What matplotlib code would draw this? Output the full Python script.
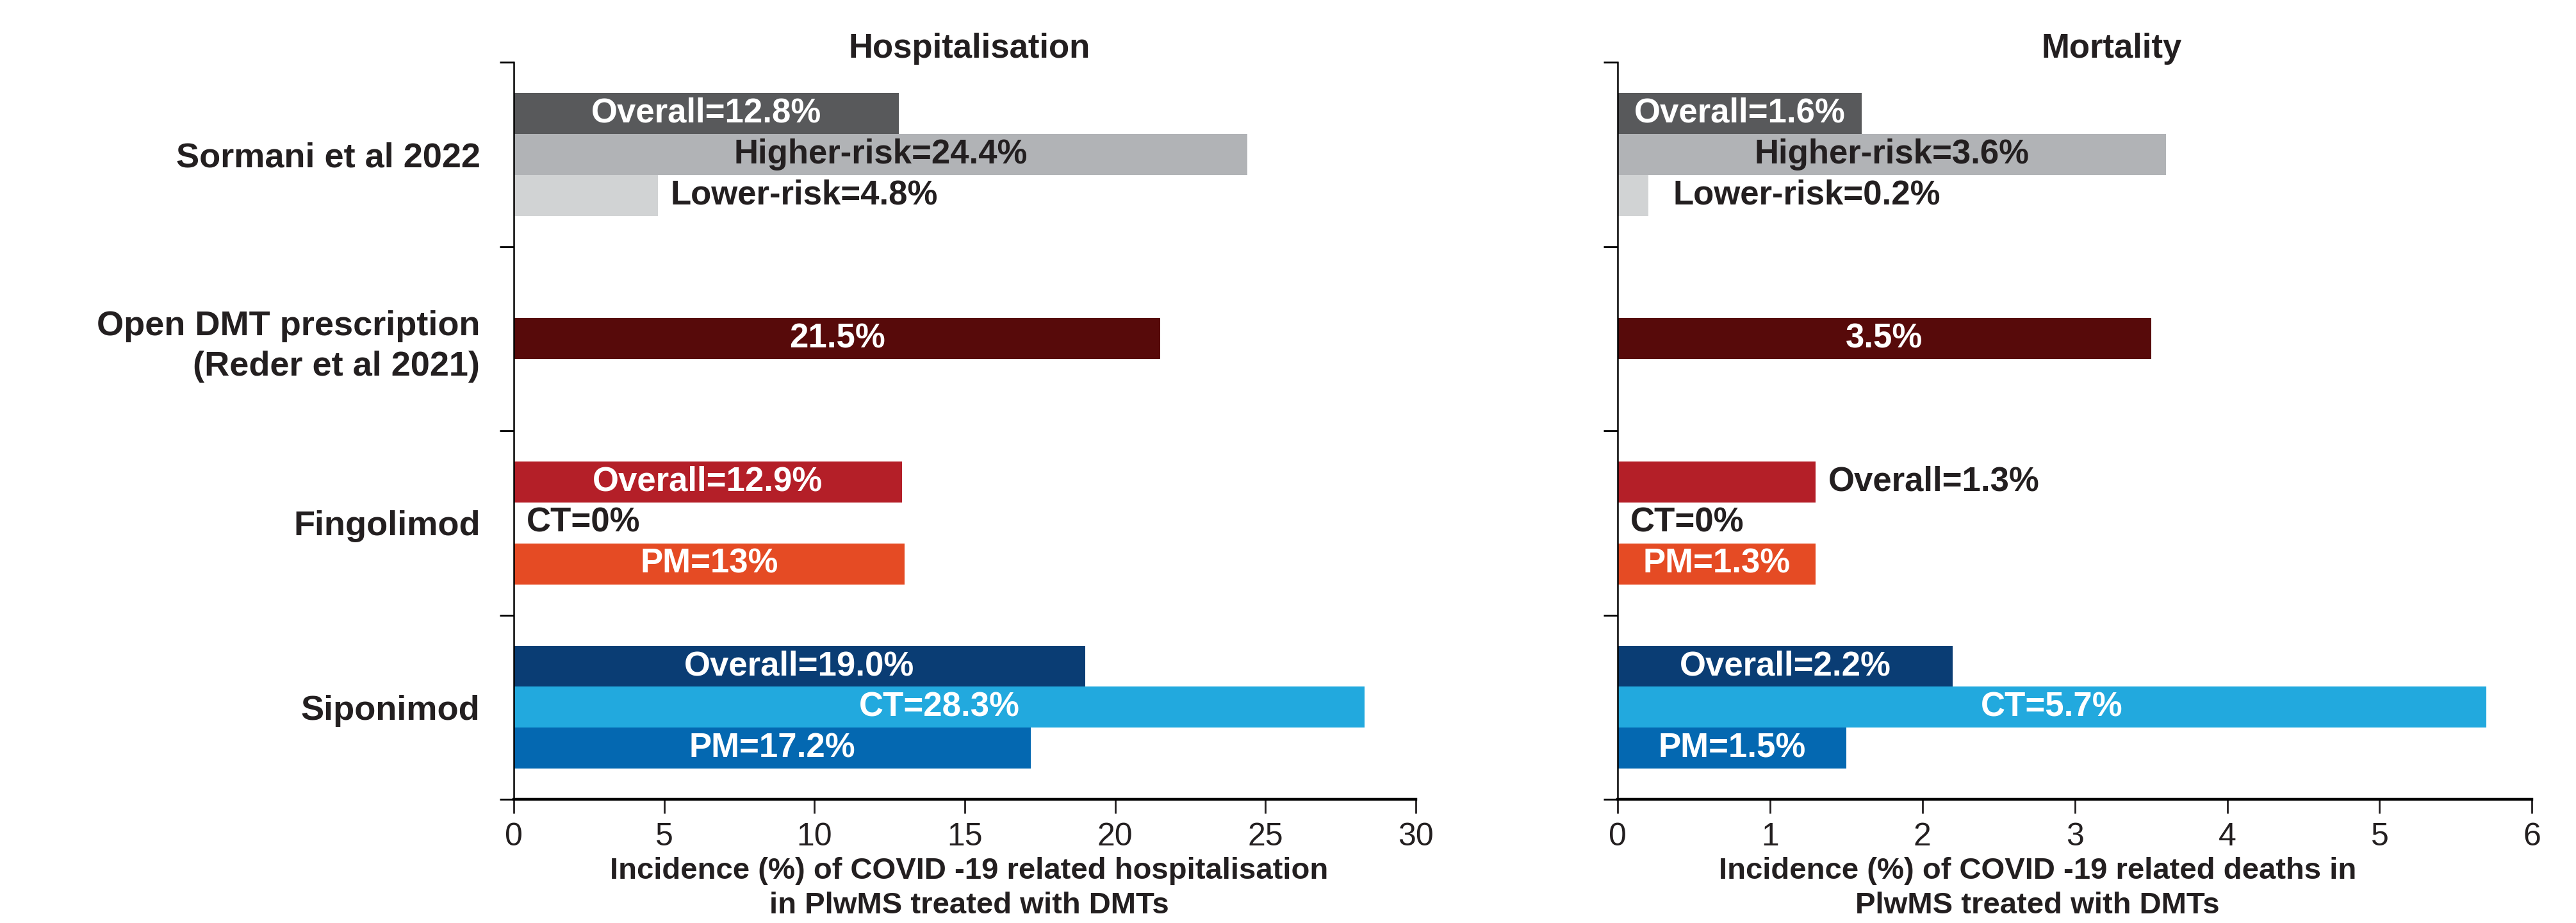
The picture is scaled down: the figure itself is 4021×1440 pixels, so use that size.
import matplotlib
matplotlib.use("Agg")
import matplotlib.pyplot as plt
import numpy as np

plt.rcParams["font.family"] = ["Liberation Sans", "DejaVu Sans"]

groups = ["Sormani et al 2022", "Open DMT prescription\n(Reder et al 2021)", "Fingolimod", "Siponimod"]

# one entry per bar: which group it belongs to and its slot inside the group
bar_group = [0, 0, 0, 1, 2, 2, 2, 3, 3, 3]
bar_slot = [-1, 0, 1, 0, -1, 0, 1, -1, 0, 1]
bar_colors = ["#58595b", "#b1b3b6", "#d1d3d4", "#570a0a", "#b41f28", "#ffffff",
              "#e54b24", "#0a3d74", "#22a9de", "#0468b1"]
text_dark = [False, True, True, False, False, True, False, False, False, False]

hosp_values = [12.8, 24.4, 4.8, 21.5, 12.9, 0, 13, 19.0, 28.3, 17.2]
hosp_labels = ["Overall=12.8%", "Higher-risk=24.4%", "Lower-risk=4.8%", "21.5%",
               "Overall=12.9%", "CT=0%", "PM=13%", "Overall=19.0%", "CT=28.3%", "PM=17.2%"]
hosp_outside = [False, False, True, False, False, True, False, False, False, False]

mort_values = [1.6, 3.6, 0.2, 3.5, 1.3, 0, 1.3, 2.2, 5.7, 1.5]
mort_labels = ["Overall=1.6%", "Higher-risk=3.6%", "Lower-risk=0.2%", "3.5%",
               "Overall=1.3%", "CT=0%", "PM=1.3%", "Overall=2.2%", "CT=5.7%", "PM=1.5%"]
mort_outside = [False, False, True, False, True, True, False, False, False, False]

hosp_ticks = [0, 5, 10, 15, 20, 25, 30]
mort_ticks = [0, 1, 2, 3, 4, 5, 6]

BAR_H = 0.222

fig = plt.figure(figsize=(20.105, 7.2), dpi=200)
ax1 = fig.add_axes([0.1995, 0.134, 0.3501, 0.7986])
ax2 = fig.add_axes([0.628, 0.134, 0.3549, 0.7986])


def draw_panel(ax, values, labels, outside, ticks, title, title_x, xlabel, xlabel_x, show_names):
    ypos = np.array(bar_group) + np.array(bar_slot) * BAR_H
    ax.barh(ypos, values, height=BAR_H, color=bar_colors, edgecolor="none")
    for y, v, lab, out, dark in zip(ypos, values, labels, outside, text_dark):
        if out:
            # tiny bars get their label pushed a bit further out, as in the original
            off = 14 if 0 < v < 0.5 else 7
            ax.annotate(lab, (v, y), xytext=(off, 0), textcoords="offset points",
                        ha="left", va="center", fontsize=19, fontweight="bold", color="#231f20")
        else:
            ax.text(v / 2, y, lab, ha="center", va="center", fontsize=19, fontweight="bold",
                    color="#231f20" if dark else "white")

    ax.set_ylim(len(groups) - 0.5, -0.5)
    ax.set_xlim(ticks[0], ticks[-1])
    ax.set_xticks(ticks)
    ax.set_xticklabels([str(t) for t in ticks], fontsize=18)
    ax.tick_params(axis="x", length=8, width=1, direction="out", pad=5, colors="#231f20")

    ax.set_yticks(range(len(groups)))
    if show_names:
        ax.set_yticklabels(groups, fontsize=19.5, fontweight="bold", linespacing=1.35)
    else:
        ax.set_yticklabels([])
    ax.tick_params(axis="y", length=0, pad=19, colors="#231f20")
    ax.set_yticks(np.arange(-0.5, len(groups), 1.0), minor=True)
    ax.tick_params(axis="y", which="minor", length=8, width=1, direction="out")

    for s in ["top", "right"]:
        ax.spines[s].set_visible(False)
    ax.spines["left"].set_linewidth(0.9)
    ax.spines["bottom"].set_linewidth(1.6)

    ax.text(title_x, 1.018, title, transform=ax.transAxes, ha="center", va="center",
            fontsize=19, fontweight="bold", color="#231f20")
    ax.text(xlabel_x, -0.078, xlabel, transform=ax.transAxes, ha="center", va="top",
            fontsize=17, fontweight="bold", color="#231f20", linespacing=1.3)


draw_panel(ax1, hosp_values, hosp_labels, hosp_outside, hosp_ticks, "Hospitalisation", 0.505,
           "Incidence (%) of COVID -19 related hospitalisation\nin PlwMS treated with DMTs", 0.505, True)
draw_panel(ax2, mort_values, mort_labels, mort_outside, mort_ticks, "Mortality", 0.54,
           "Incidence (%) of COVID -19 related deaths in\nPlwMS treated with DMTs", 0.459, False)

fig.savefig("out.png", dpi=200, facecolor="white")
